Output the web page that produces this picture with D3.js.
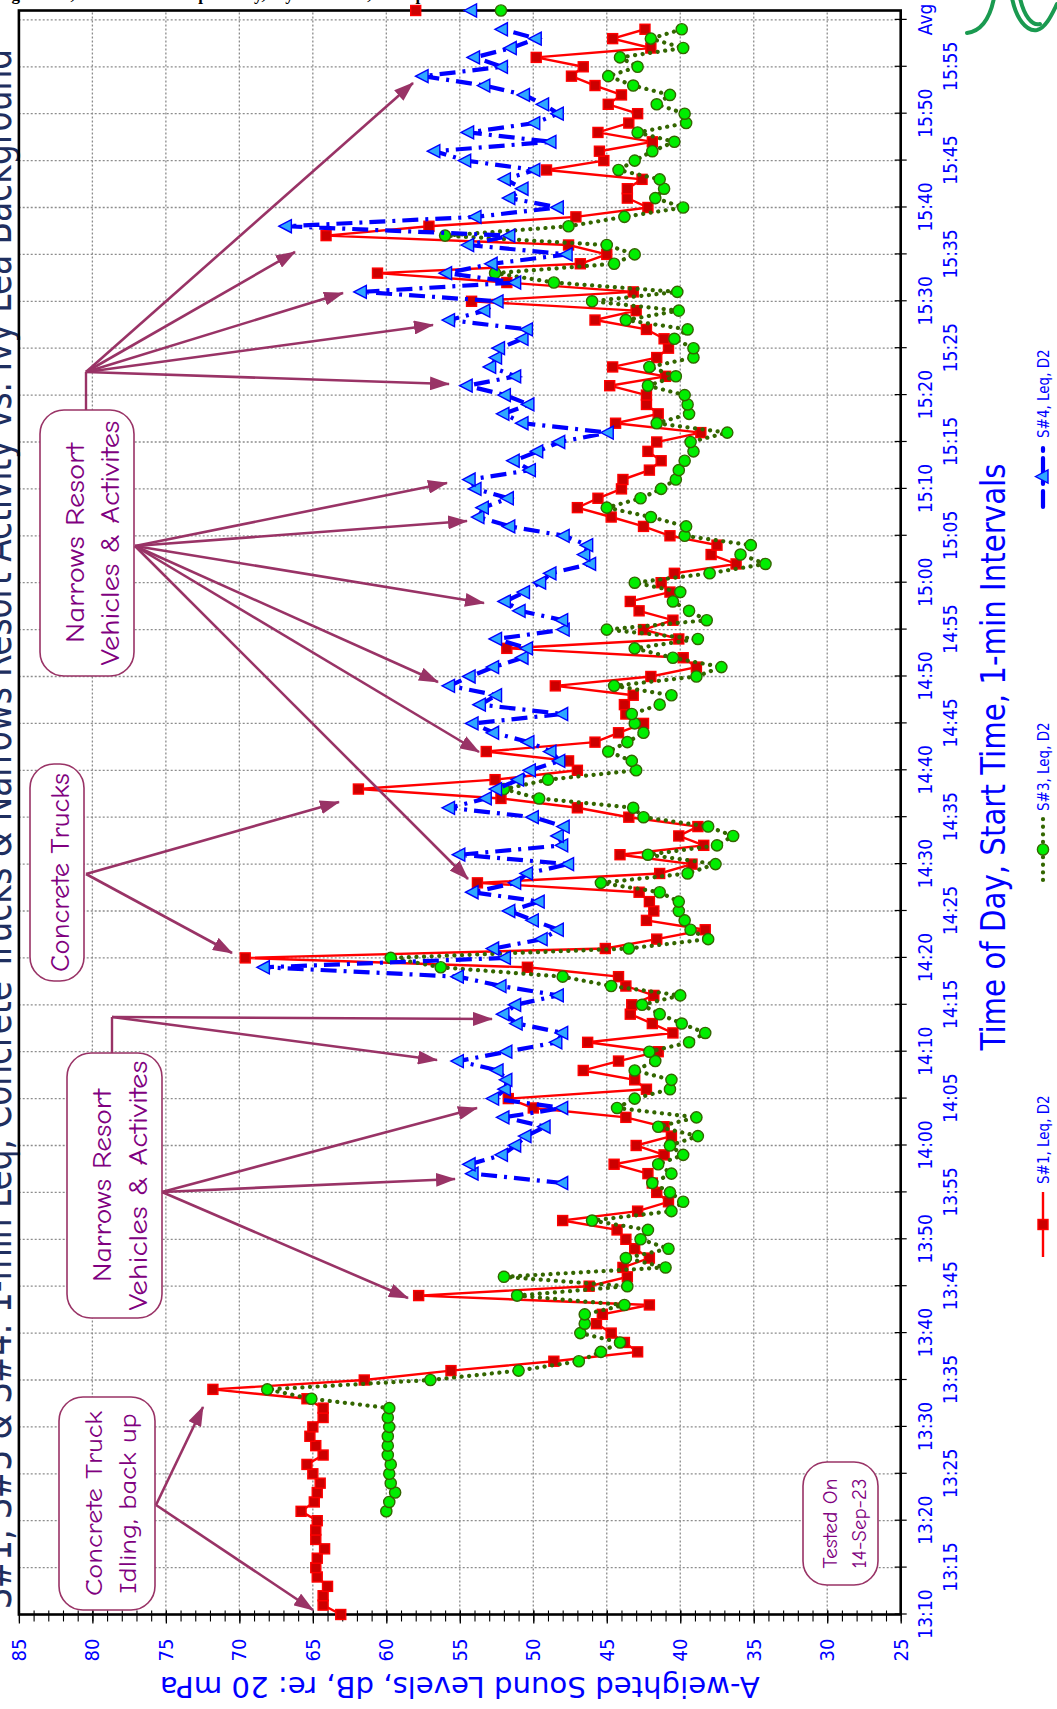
<!DOCTYPE html>
<html>
<head>
<meta charset="utf-8">
<script src="https://cdn.jsdelivr.net/npm/d3@7/dist/d3.min.js"></script>
<style>
  body { margin: 0; background: #fff; }
  svg { display: block; }
</style>
</head>
<body>
<svg id="chart" width="1057" height="1709"></svg>
<script>
// minutes after 13:10, one value per minute (null = no reading)
const s1 = [
  63.1, 64.3, 64.3, 64.0, 64.7, 64.8, 64.7, 64.2, 64.8, 64.8,
  64.7, 65.8, 64.9, 64.7, 64.5, 65.0, 65.4, 64.3, 64.8, 65.2,
  65.0, 64.3, 64.3, 65.4, 71.8, 61.5, 55.6, 48.6, 42.9, 43.8,
  44.7, 45.7, 45.3, 42.1, 57.8, 46.2, 43.6, 43.9, 42.1, 43.1,
  43.7, 44.3, 48.0, 42.9, 40.8, 41.6, 41.9, 42.2, 44.5, 41.1,
  43.0, 40.6, 41.1, 43.7, 50.0, 51.7, 42.3, 43.1, 46.6, 44.2,
  41.5, 46.3, 40.5, 41.9, 43.4, 43.3, 41.8, 43.7, 44.2, 50.4,
  69.6, 45.1, 41.6, 38.3, 42.3, 41.8, 42.1, 42.8, 53.8, 41.4,
  39.2, 44.1, 38.4, 40.1, 38.8, 43.5, 47.0, 52.2, 61.9, 52.6,
  47.0, 47.6, 53.2, 45.8, 44.2, 42.5, 43.7, 43.8, 43.2, 48.5,
  42.0, 38.9, 39.8, 51.8, 40.1, 42.5, 40.5, 42.8, 43.4, 40.7,
  41.3, 40.4, 36.2, 37.9, 37.5, 40.7, 42.5, 44.7, 47.0, 45.6,
  44.0, 43.9, 42.1, 41.3, 42.2, 41.6, 38.6, 44.4, 41.5, 42.3,
  42.3, 44.8, 41.0, 44.6, 41.6, 40.8, 41.1, 42.3, 45.8, 43.0,
  54.2, 43.2, 51.8, 60.6, 46.8, 45.0, 47.6, 64.1, 57.1, 47.1,
  42.2, 43.6, 43.6, 42.6, 49.1, 45.2, 45.5, 41.9, 45.6, 43.5,
  42.9, 44.9, 44.0, 45.8, 47.4, 46.6, 49.8, 42.0, 44.6, 42.4
];
const s3 = [
  null, null, null, null, null, null, null, null, null, null,
  null, 60.0, 59.8, 59.4, 59.7, 59.8, 59.7, 59.9, 59.9, 59.9,
  59.8, 59.9, 59.8, 65.1, 68.1, 57.0, 51.0, 46.9, 45.4, 44.1,
  46.8, 46.5, 46.5, 43.8, 51.1, 43.6, 52.0, 41.0, 43.7, 40.8,
  42.7, 42.2, 46.0, 40.6, 39.8, 40.7, 41.9, 40.6, 41.5, 39.8,
  40.7, 38.8, 41.5, 38.9, 44.3, 43.1, 40.7, 40.6, 43.1, 41.7,
  42.1, 39.4, 38.3, 39.9, 41.4, 42.6, 40.0, 44.7, 48.0, 56.3,
  59.7, 43.5, 38.1, 39.3, 39.7, 40.1, 40.1, 41.4, 45.4, 39.5,
  37.6, 42.2, 37.5, 36.4, 38.1, 42.5, 43.2, 49.6, 52.0, 49.0,
  43.0, 43.3, 44.9, 43.6, 42.5, 43.1, 43.3, 41.4, 40.6, 44.5,
  38.9, 37.2, 40.5, 43.1, 38.8, 45.0, 38.2, 39.4, 40.5, 40.0,
  43.1, 38.0, 34.2, 35.9, 35.2, 39.7, 39.6, 42.0, 45.0, 42.7,
  41.3, 40.3, 40.1, 39.7, 39.1, 39.3, 36.8, 41.6, 39.4, 39.5,
  39.7, 42.2, 40.3, 42.1, 39.1, 39.1, 40.4, 39.5, 43.7, 40.1,
  46.0, 40.2, 48.6, 52.6, 44.5, 43.1, 45.0, 56.0, 47.6, 43.8,
  39.8, 41.7, 41.1, 41.4, 44.2, 43.1, 41.9, 40.4, 42.9, 39.6,
  39.7, 41.6, 40.7, 43.2, 44.9, 42.9, 44.1, 39.8, 42.0, 39.9
];
const s4 = [
  null, null, null, null, null, null, null, null, null, null,
  null, null, null, null, null, null, null, null, null, null,
  null, null, null, null, null, null, null, null, null, null,
  null, null, null, null, null, null, null, null, null, null,
  null, null, null, null, null, null, 48.0, 54.1, 54.3, 52.1,
  51.2, 50.5, 49.2, 52.0, 48.0, 52.7, 51.9, 51.8, 52.4, 55.1,
  51.8, 48.4, 48.0, 51.1, 52.0, 51.2, 48.3, 52.2, 55.1, 68.3,
  51.9, 52.7, 49.4, 48.3, 50.0, 51.6, 49.6, 54.1, 51.2, 50.4,
  47.6, 55.0, 48.0, 48.3, 47.9, 50.0, 55.7, 53.2, 52.5, 51.0,
  50.2, 48.2, 48.8, 50.3, 52.7, 54.1, 48.0, 53.6, 52.5, 55.7,
  54.3, 52.7, 50.7, 50.4, 52.5, 47.9, 48.0, 50.9, 51.9, 50.6,
  49.5, 48.8, 46.1, 46.5, 46.3, 47.9, 51.6, 53.7, 53.4, 51.7,
  53.9, 54.3, 50.2, 51.3, 49.7, 48.2, 44.9, 50.7, 52.0, 50.3,
  51.9, 54.5, 51.2, 52.9, 52.5, 52.3, 50.7, 50.4, 55.7, 53.3,
  52.4, 61.7, 51.2, 55.9, 52.8, 47.7, 54.4, 51.6, 66.8, 53.9,
  48.3, 51.6, 50.7, 51.9, 49.9, 54.6, 56.7, 48.8, 54.4, 49.9,
  48.3, 49.3, 50.6, 53.3, 57.5, 52.1, 54.0, 51.5, 49.8, 52.1
];
const avgValues = [58.0, 52.2, 54.2];   // S#1, S#3, S#4
const seriesNames = ["S#1, Leq, D2", "S#3, Leq, D2", "S#4, Leq, D2"];

const timeLabels = [
  "13:10", "13:15", "13:20", "13:25", "13:30", "13:35", "13:40", "13:45",
  "13:50", "13:55", "14:00", "14:05", "14:10", "14:15", "14:20", "14:25",
  "14:30", "14:35", "14:40", "14:45", "14:50", "14:55", "15:00", "15:05",
  "15:10", "15:15", "15:20", "15:25", "15:30", "15:35", "15:40", "15:45",
  "15:50", "15:55", "Avg"
];
const dbTicks = [25, 30, 35, 40, 45, 50, 55, 60, 65, 70, 75, 80, 85];

const svg = d3.select("#chart");
const axisFont = "'Liberation Sans Narrow', 'DejaVu Sans Condensed', 'Liberation Sans', sans-serif";
const noteFont = "'Comic Sans MS', 'Comic Neue', 'Lato', sans-serif";
const blue = "#0000ff";
const noteColor = "#993366";
const noteText = "#800080";

// page caption sliver at the very top (only descenders show)
svg.append("text")
  .attr("x", 2).attr("y", -0.5)
  .attr("font-family", "'Liberation Serif', serif")
  .attr("font-size", 17).attr("font-weight", "bold")
  .text("ng Levels, Concrete Pour Spectrally, Ivy Lea Dock, 14-Sep-2023");

// the chart is laid out landscape and turned a quarter turn
const W = 1709;
const g = svg.append("g").attr("transform", `translate(0,${W}) rotate(-90)`);

const x = d3.scaleLinear().domain([0, 171]).range([94.5, 1698.5]);
const y = d3.scaleLinear().domain([25, 85]).range([900.7, 18.9]);

// chart title, mostly off the page
g.append("text")
  .attr("x", 880).attr("y", 11)
  .attr("text-anchor", "middle")
  .attr("font-family", axisFont)
  .attr("font-size", 40)
  .attr("fill", "#1f2f5f")
  .attr("textLength", 1560).attr("lengthAdjust", "spacingAndGlyphs")
  .text("S#1, S#3 & S#4: 1-min Leq, Concrete Trucks & Narrows Resort Activity vs. Ivy Lea Background");

// grid
const tickTimes = d3.range(0, 171, 5);
g.append("g").selectAll("line")
  .data(tickTimes.slice(1))
  .join("line")
  .attr("x1", d => x(d)).attr("x2", d => x(d))
  .attr("y1", y(25)).attr("y2", y(85))
  .attr("stroke", "#8c8c8c").attr("stroke-width", 1.3)
  .attr("stroke-dasharray", "2 2");

g.append("g").selectAll("line")
  .data(dbTicks.slice(1, -1))
  .join("line")
  .attr("x1", x(0)).attr("x2", x(171))
  .attr("y1", d => y(d)).attr("y2", d => y(d))
  .attr("stroke", "#8c8c8c").attr("stroke-width", 1.3)
  .attr("stroke-dasharray", "2 2");

// time axis (landscape bottom)
const xAxis = g.append("g")
  .attr("transform", `translate(0,${y(25)})`)
  .call(d3.axisBottom(x).tickValues(tickTimes).tickFormat((d, i) => timeLabels[i]).tickSize(6));
xAxis.select(".domain").remove();
xAxis.selectAll(".tick line").attr("y1", -6).attr("y2", 6).attr("stroke", "#000").attr("stroke-width", 1.2);
xAxis.selectAll(".tick text")
  .attr("y", (d, i) => i % 2 ? 43 : 18)
  .attr("dy", "0.71em")
  .attr("fill", blue)
  .attr("font-family", axisFont)
  .attr("font-size", 19);

// level axis (landscape left)
const yAxis = g.append("g")
  .attr("transform", `translate(${x(0)},0)`)
  .call(d3.axisLeft(y).tickValues(dbTicks).tickSize(8));
yAxis.select(".domain").remove();
yAxis.selectAll(".tick line").attr("x1", 4).attr("x2", -9).attr("stroke", "#000").attr("stroke-width", 1.3);
yAxis.selectAll(".tick text")
  .attr("x", -24)
  .attr("fill", blue)
  .attr("font-family", axisFont)
  .attr("font-size", 20);

const yMinor = g.append("g")
  .attr("transform", `translate(${x(0)},0)`)
  .call(d3.axisLeft(y).tickValues(d3.range(25, 86, 1)).tickFormat("").tickSize(7));
yMinor.select(".domain").remove();
yMinor.selectAll(".tick line").attr("x1", 4).attr("x2", -7).attr("stroke", "#000").attr("stroke-width", 1.1);

// plot frame
g.append("rect")
  .attr("x", x(0)).attr("y", y(85))
  .attr("width", x(171) - x(0)).attr("height", y(25) - y(85))
  .attr("fill", "none").attr("stroke", "#000").attr("stroke-width", 2.6);

// axis titles
g.append("text")
  .attr("transform", `translate(32,${(y(25) + y(85)) / 2}) rotate(-90)`)
  .attr("text-anchor", "middle")
  .attr("font-family", axisFont).attr("font-size", 29)
  .attr("fill", blue)
  .attr("textLength", 600).attr("lengthAdjust", "spacingAndGlyphs")
  .text("A-weighted Sound Levels, dB, re: 20 mPa");

g.append("text")
  .attr("x", 952).attr("y", 1005)
  .attr("text-anchor", "middle")
  .attr("font-family", axisFont).attr("font-size", 34)
  .attr("fill", blue)
  .attr("textLength", 587).attr("lengthAdjust", "spacingAndGlyphs")
  .text("Time of Day, Start Time, 1-min Intervals");

// series
const line = d3.line()
  .defined(d => d != null)
  .x((d, i) => x(i))
  .y(d => y(d));

const triangle = "M0,-7.5 L6.5,5 L-6.5,5 Z";

function drawS1(sel, pts) {
  sel.selectAll("rect.m").data(pts).join("rect").attr("class", "m")
    .attr("x", d => d[0] - 5).attr("y", d => d[1] - 5)
    .attr("width", 10).attr("height", 10)
    .attr("fill", "#cc0000").attr("stroke", "#ff0000").attr("stroke-width", 1.4);
}
function drawS3(sel, pts) {
  sel.selectAll("circle.m").data(pts).join("circle").attr("class", "m")
    .attr("cx", d => d[0]).attr("cy", d => d[1]).attr("r", 5.6)
    .attr("fill", "#00ee00").attr("stroke", "#336600").attr("stroke-width", 1.4);
}
function drawS4(sel, pts) {
  sel.selectAll("path.m").data(pts).join("path").attr("class", "m")
    .attr("d", triangle)
    .attr("transform", d => `translate(${d[0]},${d[1]})`)
    .attr("fill", "#2ea8ff").attr("stroke", "#0000ff").attr("stroke-width", 1.4);
}

const pts = arr => arr.map((v, i) => v == null ? null : [x(i), y(v)]).filter(p => p);

// S#1
const gS1 = g.append("g");
gS1.append("path").datum(s1).attr("d", line)
  .attr("fill", "none").attr("stroke", "#ff0000").attr("stroke-width", 2.4);
drawS1(gS1, pts(s1).concat([[x(171), y(avgValues[0])]]));

// S#3
const gS3 = g.append("g");
gS3.append("path").datum(s3).attr("d", line)
  .attr("fill", "none").attr("stroke", "#336600").attr("stroke-width", 4.2)
  .attr("stroke-linecap", "round").attr("stroke-dasharray", "0.1 7.5");
drawS3(gS3, pts(s3).concat([[x(171), y(avgValues[1])]]));

// S#4
const gS4 = g.append("g");
gS4.append("path").datum(s4).attr("d", line)
  .attr("fill", "none").attr("stroke", "#0000ff").attr("stroke-width", 4.2)
  .attr("stroke-dasharray", "16 7 3 7");
drawS4(gS4, pts(s4).concat([[x(171), y(avgValues[2])]]));

// legend
const legend = [
  { x0: 452, x1: 517, draw: drawS1, stroke: "#ff0000", dash: null, w: 2.4 },
  { x0: 829, x1: 890, draw: drawS3, stroke: "#336600", dash: "0.1 7.5", w: 4.2 },
  { x0: 1202, x1: 1263, draw: drawS4, stroke: "#0000ff", dash: "16 7 3 7", w: 4.2 }
];
legend.forEach((L, i) => {
  const lg = g.append("g");
  lg.append("line")
    .attr("x1", L.x0).attr("x2", L.x1).attr("y1", 1043).attr("y2", 1043)
    .attr("stroke", L.stroke).attr("stroke-width", L.w)
    .attr("stroke-linecap", L.dash ? "round" : "butt")
    .attr("stroke-dasharray", L.dash);
  L.draw(lg, [[(L.x0 + L.x1) / 2, 1043]]);
  lg.append("text")
    .attr("x", L.x1 + 8).attr("y", 1048.5)
    .attr("font-family", axisFont).attr("font-size", 15)
    .attr("fill", blue)
    .text(seriesNames[i]);
});

// call-outs
const defs = svg.append("defs");
defs.append("marker")
  .attr("id", "head").attr("viewBox", "0 0 20 14")
  .attr("refX", 19).attr("refY", 7)
  .attr("markerWidth", 20).attr("markerHeight", 14)
  .attr("markerUnits", "userSpaceOnUse").attr("orient", "auto")
  .append("path").attr("d", "M0,0 L20,7 L0,14 Z").attr("fill", noteColor);

const boxes = [
  { x0: 99, x1: 312, y0: 59, y1: 155, lines: ["Concrete Truck", "Idling, back up"], base: [102, 136], len: [185, 180], fs: 25 },
  { x0: 391, x1: 656, y0: 67, y1: 162, lines: ["Narrows Resort", "Vehicles & Activites"], base: [111, 147], len: [193, 250], fs: 26 },
  { x0: 728, x1: 945, y0: 30, y1: 84, lines: ["Concrete Trucks"], base: [69], len: [199], fs: 26 },
  { x0: 1033, x1: 1299, y0: 40, y1: 134, lines: ["Narrows Resort", "Vehicles & Activites"], base: [84, 119], len: [200, 245], fs: 26 },
  { x0: 124, x1: 247, y0: 803, y1: 878, lines: ["Tested On", "14-Sep-23"], base: [837, 866], len: [90, 90], fs: 21 }
];
const notes = g.append("g");
boxes.forEach(b => {
  notes.append("rect")
    .attr("x", b.x0).attr("y", b.y0)
    .attr("width", b.x1 - b.x0).attr("height", b.y1 - b.y0)
    .attr("rx", 24).attr("ry", 24)
    .attr("fill", "#fff").attr("stroke", noteColor).attr("stroke-width", 1.6);
  b.lines.forEach((t, k) => {
    notes.append("text")
      .attr("x", (b.x0 + b.x1) / 2).attr("y", b.base[k])
      .attr("text-anchor", "middle")
      .attr("font-family", noteFont).attr("font-size", b.fs)
      .attr("fill", noteText)
      .attr("textLength", b.len[k]).attr("lengthAdjust", "spacingAndGlyphs")
      .text(t);
  });
});

const stems = [
  [[656, 112], [692, 112]],
  [[1299, 86], [1337, 86]]
];
stems.forEach(s => {
  notes.append("line")
    .attr("x1", s[0][0]).attr("y1", s[0][1]).attr("x2", s[1][0]).attr("y2", s[1][1])
    .attr("stroke", noteColor).attr("stroke-width", 2.4);
});

const arrows = [
  [[204, 156], [302, 203]], [[204, 156], [99, 313]],
  [[517, 162], [530, 455]], [[517, 162], [411, 408]], [[517, 162], [601, 477]],
  [[692, 112], [690, 492]], [[692, 112], [649, 437]],
  [[835, 86], [907, 339]], [[835, 86], [756, 232]],
  [[1163, 135], [1226, 447]], [[1163, 135], [1188, 467]], [[1163, 135], [1106, 484]],
  [[1163, 135], [1027, 438]], [[1163, 135], [957, 479]], [[1163, 135], [830, 468]],
  [[1337, 86], [1325, 449]], [[1337, 86], [1384, 433]], [[1337, 86], [1416, 343]],
  [[1337, 86], [1457, 295]], [[1337, 86], [1626, 413]]
];
notes.selectAll("line.arrow").data(arrows).join("line").attr("class", "arrow")
  .attr("x1", d => d[0][0]).attr("y1", d => d[0][1])
  .attr("x2", d => d[1][0]).attr("y2", d => d[1][1])
  .attr("stroke", noteColor).attr("stroke-width", 2.6)
  .attr("marker-end", "url(#head)");

// green logo fragment in the top right corner
const logo = svg.append("g").attr("fill", "none").attr("stroke", "#1a9a50").attr("stroke-width", 4).attr("stroke-linecap", "round");
logo.append("path").attr("d", "M967,33 C982,31 990,18 994,-2");
logo.append("path").attr("d", "M1012,-2 C1016,18 1026,32 1037,30 C1046,28 1052,14 1057,4");
logo.append("path").attr("d", "M1020,-2 C1024,16 1032,26 1040,24");
</script>
</body>
</html>
